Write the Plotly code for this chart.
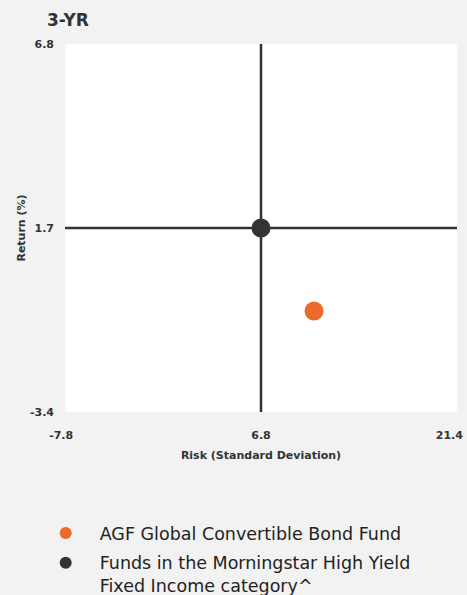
import plotly.graph_objects as go

# Data
fund_name = "AGF Global Convertible Bond Fund"
category_name = "Funds in the Morningstar High Yield<br>Fixed Income category^"
fund_risk = [10.75]
fund_return = [-0.6]
cat_risk = [6.8]
cat_return = [1.7]
x_range = [-7.8, 21.4]
y_range = [-3.4, 6.8]
x_ticks = [-7.8, 6.8, 21.4]
y_ticks = [-3.4, 1.7, 6.8]

FONT = "DejaVu Sans"
DARK = "#333333"
ORANGE = "#ea6a2b"

PAD = "<span style='color:rgba(0,0,0,0)'>0</span>"
x_tick_text = [f"<b>{x_ticks[0]}{PAD}</b>", f"<b>{x_ticks[1]}</b>", f"<b>{x_ticks[2]}{PAD}{PAD}</b>"]

fig = go.Figure()

# crosshair lines through category average
fig.add_trace(go.Scatter(x=[cat_risk[0], cat_risk[0]], y=y_range, mode="lines",
                         line=dict(color=DARK, width=2.5), showlegend=False, hoverinfo="skip"))
fig.add_trace(go.Scatter(x=x_range, y=[cat_return[0], cat_return[0]], mode="lines",
                         line=dict(color=DARK, width=2.5), showlegend=False, hoverinfo="skip"))

fig.add_trace(go.Scatter(x=fund_risk, y=fund_return, mode="markers", name=fund_name,
                         legendgroup="a", marker=dict(color=ORANGE, size=19)))
fig.add_trace(go.Scatter(x=cat_risk, y=cat_return, mode="markers", name=category_name,
                         legendgroup="b", marker=dict(color=DARK, size=19)))

fig.update_layout(
    width=467, height=595,
    margin=dict(l=65, r=10, t=44, b=183, autoexpand=False),
    paper_bgcolor="#f2f2f2",
    plot_bgcolor="#ffffff",
    font=dict(family=FONT, color=DARK),
    title=dict(text="<b>3-YR</b>", x=47/467, xanchor="left", y=1-20/595, yanchor="middle",
               font=dict(size=17, color=DARK, family=FONT)),
    showlegend=True,
    legend=dict(x=-0.085, y=-0.28, xanchor="left", yanchor="top", valign="top",
                font=dict(size=17.5, color="#222222", family=FONT),
                bgcolor="rgba(0,0,0,0)", tracegroupgap=4, itemsizing="constant",
                itemwidth=58),
    xaxis=dict(range=x_range, tickvals=x_ticks, ticktext=x_tick_text,
               showgrid=False, zeroline=False, showline=False, ticks="", automargin=False,
               ticklabelstandoff=15, ticklabeloverflow="allow", tickfont=dict(size=11, color=DARK),
               title=dict(text="<b>Risk (Standard Deviation)</b>", font=dict(size=11, color=DARK), standoff=10)),
    yaxis=dict(range=y_range, tickvals=y_ticks, ticktext=[f"<b>{v}</b>" for v in y_ticks],
               showgrid=False, zeroline=False, showline=False, ticks="", automargin=False,
               ticklabelstandoff=10, tickfont=dict(size=11, color=DARK),
               title=dict(text="<b>Return (%)</b>", font=dict(size=11, color=DARK), standoff=2)),
)

fig.write_html("out.html", config={"displayModeBar": False},
               post_script="document.body.style.margin='0';document.body.style.overflow='hidden';")
